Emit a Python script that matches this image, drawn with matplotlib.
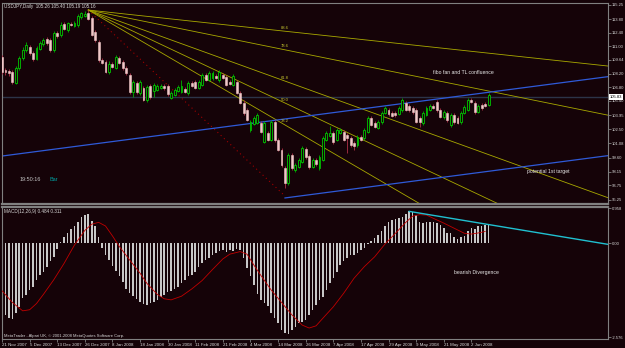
import matplotlib
matplotlib.use("Agg")
import matplotlib.pyplot as plt
from matplotlib.transforms import blended_transform_factory

plt.rcParams["font.family"] = ["Liberation Sans", "DejaVu Sans"]

# USDJPY daily candles, 21 Nov 2007 .. 5 Jun 2008
opens = [109.91, 108.58, 108.48, 108.37, 107.24, 108.78, 109.81, 110.63, 110.94, 110.32,
         109.70, 110.73, 111.25, 111.76, 111.66, 110.63, 112.37, 112.17, 113.30, 112.68,
         113.30, 113.09, 113.19, 114.02, 114.12, 114.43, 113.91, 112.47, 111.45, 109.60,
         109.40, 108.37, 109.19, 108.78, 109.81, 109.40, 108.78, 108.07, 106.32, 107.24,
         106.22, 106.73, 105.50, 106.94, 106.42, 106.53, 106.73, 106.94, 106.94, 105.71,
         106.01, 106.42, 106.32, 106.63, 106.22, 107.24, 107.34, 106.73, 107.04, 108.07,
         107.55, 107.76, 107.96, 107.55, 108.07, 107.86, 107.34, 107.04, 107.34, 106.22,
         105.19, 104.47, 102.42, 103.04, 103.14, 103.14, 101.19, 102.11, 101.40, 103.24,
         101.40, 100.37, 98.52, 96.99, 99.86, 98.32, 98.63, 99.14, 100.47, 99.76,
         98.63, 99.34, 98.52, 99.34, 101.40, 101.81, 102.11, 101.40, 102.11, 102.21,
         101.91, 101.60, 101.09, 100.88, 101.70, 101.60, 102.21, 103.65, 103.14, 102.63,
         103.24, 104.17, 104.47, 104.17, 104.17, 104.06, 104.47, 105.19, 104.88, 104.68,
         104.47, 103.65, 103.14, 103.96, 104.47, 104.88, 105.29, 104.47, 103.76, 104.17,
         102.94, 103.96, 103.65, 103.24, 104.17, 104.47, 105.50, 105.19, 104.27, 104.99,
         105.09, 104.99]
highs = [110.12, 108.78, 108.68, 108.58, 108.99, 110.01, 110.94, 111.45, 111.14, 110.53,
         111.04, 111.56, 111.86, 111.96, 111.86, 112.58, 112.58, 113.50, 113.50, 113.50,
         113.50, 113.60, 114.32, 114.53, 114.63, 114.73, 114.12, 112.68, 111.66, 109.81,
         109.60, 109.50, 109.40, 110.12, 110.01, 109.60, 108.99, 108.27, 107.55, 107.45,
         107.55, 106.94, 107.04, 107.14, 107.24, 107.14, 107.14, 107.14, 107.14, 106.42,
         106.73, 107.04, 107.55, 106.83, 107.45, 107.45, 107.55, 107.55, 108.27, 108.27,
         108.48, 108.48, 108.17, 108.58, 108.27, 108.07, 107.55, 108.17, 107.55, 106.42,
         105.50, 104.68, 103.45, 103.86, 104.17, 103.34, 103.34, 102.32, 103.45, 103.45,
         101.60, 100.58, 98.73, 100.06, 100.06, 99.04, 99.55, 100.78, 100.68, 99.96,
         99.55, 99.55, 99.86, 101.81, 102.32, 102.83, 102.32, 102.63, 102.63, 102.42,
         102.11, 101.81, 101.29, 101.91, 101.91, 102.63, 103.86, 103.86, 103.34, 103.45,
         104.37, 104.88, 104.68, 104.37, 104.37, 104.88, 105.71, 105.40, 105.09, 104.88,
         104.68, 103.86, 104.37, 104.88, 105.09, 105.09, 105.50, 104.68, 104.47, 104.37,
         104.17, 104.17, 103.86, 104.37, 104.99, 105.71, 105.71, 105.40, 105.09, 105.19,
         105.29, 106.22]
lows = [108.17, 108.07, 107.96, 107.14, 107.14, 108.58, 109.60, 110.42, 110.12, 109.50,
        109.60, 110.63, 111.04, 111.14, 110.42, 110.42, 111.86, 111.96, 112.68, 112.47,
        113.09, 112.99, 112.99, 113.81, 114.02, 113.71, 112.07, 111.45, 109.40, 109.19,
        108.27, 108.17, 108.78, 108.68, 109.19, 108.58, 108.07, 106.12, 105.81, 106.12,
        106.01, 105.40, 105.29, 105.60, 105.81, 106.42, 106.63, 106.53, 105.91, 105.60,
        105.91, 106.32, 106.22, 106.22, 106.01, 106.83, 106.63, 106.63, 106.94, 107.45,
        107.45, 107.55, 107.65, 107.34, 107.65, 106.94, 107.04, 106.94, 106.12, 105.09,
        103.96, 103.34, 102.21, 102.94, 103.04, 102.11, 101.09, 101.29, 101.29, 101.19,
        100.27, 98.63, 96.47, 96.78, 98.32, 98.11, 98.52, 99.04, 99.45, 98.42,
        98.52, 98.73, 98.32, 99.24, 101.29, 101.70, 100.99, 101.29, 102.01, 101.29,
        100.06, 100.68, 100.37, 100.68, 101.29, 101.40, 102.11, 102.83, 102.63, 102.52,
        103.04, 104.06, 103.86, 103.76, 103.76, 103.96, 104.27, 104.37, 104.27, 104.06,
        103.14, 102.73, 102.94, 103.86, 104.37, 104.58, 104.27, 103.65, 103.55, 103.24,
        102.73, 103.04, 103.04, 103.04, 104.06, 104.37, 105.19, 104.06, 104.17, 104.47,
        104.78, 104.88]
closes = [108.37, 108.37, 108.27, 107.34, 108.78, 109.81, 110.63, 111.14, 110.32, 109.70,
          110.84, 111.35, 111.66, 111.35, 110.63, 112.37, 112.07, 113.19, 112.78, 113.40,
          113.19, 113.40, 114.12, 114.43, 114.32, 113.81, 112.17, 111.66, 109.60, 109.29,
          108.37, 109.19, 108.89, 109.91, 109.29, 108.78, 108.27, 106.32, 107.34, 106.32,
          107.34, 105.50, 106.83, 105.81, 107.04, 106.94, 106.94, 106.73, 106.12, 106.22,
          106.53, 106.83, 106.94, 106.32, 107.24, 106.94, 106.73, 107.34, 108.07, 107.55,
          108.27, 108.27, 107.76, 108.37, 107.76, 107.04, 107.14, 107.96, 106.22, 105.19,
          104.17, 103.45, 103.24, 103.65, 103.96, 102.21, 103.14, 101.40, 103.24, 101.40,
          100.37, 98.83, 96.99, 99.86, 98.52, 98.83, 99.34, 100.58, 99.65, 98.63,
          99.34, 98.93, 99.65, 101.60, 102.11, 102.11, 101.19, 102.42, 102.42, 101.40,
          101.60, 100.88, 100.78, 101.70, 101.40, 102.42, 103.65, 102.94, 102.73, 103.24,
          104.17, 104.68, 104.06, 103.86, 103.96, 104.68, 105.50, 104.47, 104.47, 104.27,
          103.24, 103.24, 104.17, 104.68, 104.88, 104.68, 104.47, 103.76, 104.27, 103.45,
          103.96, 103.24, 103.14, 104.17, 104.78, 105.50, 105.29, 104.27, 104.88, 104.68,
          104.88, 106.01]

# MACD(12,26,9) main values (histogram) and signal line points
macd_vals = [-1.83, -1.96, -2.05, -2.08, -1.92, -1.74, -1.51, -1.42, -1.28, -1.21,
             -1.00, -0.87, -0.78, -0.64, -0.50, -0.37, -0.15, 0.04, 0.16, 0.28,
             0.40, 0.47, 0.58, 0.72, 0.78, 0.80, 0.62, 0.48, 0.17, -0.12,
             -0.32, -0.46, -0.62, -0.76, -0.90, -1.07, -1.24, -1.35, -1.45, -1.53,
             -1.60, -1.65, -1.68, -1.64, -1.60, -1.55, -1.46, -1.42, -1.33, -1.32,
             -1.24, -1.19, -1.10, -1.00, -0.91, -0.87, -0.78, -0.64, -0.55, -0.46,
             -0.41, -0.32, -0.26, -0.20, -0.18, -0.23, -0.18, -0.20, -0.16, -0.18,
             -0.40, -0.68, -0.90, -1.13, -1.39, -1.55, -1.64, -1.73, -1.92, -2.05,
             -2.19, -2.37, -2.45, -2.47, -2.37, -2.28, -2.19, -2.15, -2.10, -1.97,
             -1.83, -1.69, -1.55, -1.46, -1.28, -1.10, -0.96, -0.78, -0.60, -0.50,
             -0.41, -0.32, -0.32, -0.27, -0.18, -0.14, -0.03, 0.05, 0.14, 0.23,
             0.32, 0.46, 0.59, 0.64, 0.66, 0.68, 0.71, 0.80, 0.87, 0.84,
             0.78, 0.59, 0.55, 0.57, 0.59, 0.59, 0.55, 0.50, 0.41, 0.27,
             0.27, 0.18, 0.11, 0.16, 0.20, 0.32, 0.41, 0.38, 0.46, 0.46,
             0.50, 0.53]
sig_bars = [0, 3, 6, 8, 10, 12, 15, 18, 21, 24, 26, 28, 30, 32, 34, 37, 40, 42, 45, 47,
            49, 52, 55, 58, 61, 64, 66, 69, 71, 73, 75, 78, 81, 84, 87, 89, 91, 93, 96, 99,
            102, 105, 108, 111, 114, 117, 119, 121, 123, 125, 128, 131, 134, 136, 138, 140]
sig_vals = [-1.30, -1.62, -1.85, -1.82, -1.65, -1.40, -1.00, -0.55, -0.05, 0.35, 0.52, 0.57,
            0.47, 0.20, -0.09, -0.46, -0.82, -1.10, -1.40, -1.52, -1.55, -1.45, -1.25, -1.02,
            -0.72, -0.43, -0.30, -0.23, -0.30, -0.60, -0.88, -1.28, -1.62, -1.96, -2.24, -2.32,
            -2.26, -2.05, -1.74, -1.37, -0.96, -0.64, -0.37, -0.02, 0.27, 0.57, 0.74, 0.78,
            0.77, 0.68, 0.55, 0.41, 0.27, 0.25, 0.28, 0.32]

date_labels = ["21 Nov 2007", "5 Dec 2007", "13 Dec 2007", "26 Dec 2007", "8 Jan 2008",
               "18 Jan 2008", "30 Jan 2008", "11 Feb 2008", "21 Feb 2008", "4 Mar 2008",
               "14 Mar 2008", "26 Mar 2008", "7 Apr 2008", "17 Apr 2008", "29 Apr 2008",
               "9 May 2008", "21 May 2008", "2 Jun 2008"]
price_ticks = ["115.25", "113.80", "112.40", "111.00", "109.64", "108.20", "106.80", "105.40",
               "103.95", "102.50", "101.08", "99.60", "98.15", "96.75", "95.25"]
macd_ticks = ["0.958", "0.00", "-2.576"]

# drawn objects: fibo fan anchors, trend lines, bid
fan_p1 = (25, 114.73)
fan_p2 = (82, 95.65)
fan_levels = [0.886, 0.786, 0.618, 0.5, 0.382]
fan_names = ["88.6", "78.6", "61.8", "50.0", "38.2"]
tl_upper = [(0, 99.75), (141, 106.29)]
tl_lower_start = (82, 95.45)
macd_tl = [(118, 0.87), (141, 0.51)]
bid = 105.83

BG = "#150308"
FRAME = "#808080"
TXT = "#d8d8d8"
FS = 3.3
XMIN, XMAX = 0.0, 175.6

fig = plt.figure(figsize=(6.25, 3.48), dpi=100, facecolor=BG)


def px_axes(x0, y0, x1, y1):
    return fig.add_axes([x0 / 625, 1 - y1 / 348, (x1 - x0) / 625, (y1 - y0) / 348])


ax = px_axes(2, 3, 608, 204)
mac = px_axes(2, 207, 608, 339)

for a in (ax, mac):
    a.set_facecolor(BG)
    a.set_xlim(XMIN, XMAX)
    for s in a.spines.values():
        s.set_color(FRAME)
        s.set_linewidth(0.8)
    a.yaxis.tick_right()
    a.tick_params(axis="y", colors=FRAME, labelcolor=TXT, labelsize=3.0, length=2, width=0.6, pad=1)
ax.spines["bottom"].set_linewidth(1.6)
mac.spines["top"].set_linewidth(1.6)

# price panel
ax.set_ylim(94.83, 115.45)
ax.set_yticks([float(t) for t in price_ticks])
ax.set_yticklabels(price_ticks)
ax.set_xticks([])

ax.axhline(bid, color="#2c3448", lw=1.0, zorder=1)

bars = list(range(len(closes)))
for i in bars:
    o, h, l, c = opens[i], highs[i], lows[i], closes[i]
    if c >= o:
        ax.vlines(i, l, h, color="#00b000", lw=0.6, zorder=3)
        ax.bar(i, max(c - o, 0.02), bottom=o, width=0.55, facecolor=BG,
               edgecolor="#00c800", lw=0.6, zorder=4)
    else:
        ax.vlines(i, l, h, color="#b03048", lw=0.6, zorder=3)
        ax.bar(i, max(o - c, 0.02), bottom=c, width=0.55, facecolor="#f0c8c8",
               edgecolor="#f0c8c8", lw=0.4, zorder=4)

# fibo fan
x1, p1 = fan_p1
x2, p2 = fan_p2
ax.plot([x1, x2], [p1, p2], color="#a00000", lw=0.8, ls=(0, (1, 3)), zorder=2)
for lev, name in zip(fan_levels, fan_names):
    py = p2 + lev * (p1 - p2)
    slope = (py - p1) / (x2 - x1)
    ax.plot([x1, XMAX], [p1, p1 + slope * (XMAX - x1)], color="#a8a800", lw=0.6, zorder=2)
    ax.text(x2, py + 0.15, name, color="#c8c830", fontsize=3.0, ha="center", va="bottom", zorder=5)

# trend lines (parallel channel)
(ua, pa), (ub, pb) = tl_upper
k = (pb - pa) / (ub - ua)
ax.plot([XMIN, XMAX], [pa + k * (XMIN - ua), pa + k * (XMAX - ua)], color="#2f5ad8", lw=0.9, zorder=2)
lx, lp = tl_lower_start
ax.plot([lx, XMAX], [lp, lp + k * (XMAX - lx)], color="#2f5ad8", lw=0.9, zorder=2)

ax.text(0.004, 0.995, "USDJPY,Daily  105.26 105.40 105.19 105.16", transform=ax.transAxes,
        ha="left", va="top", fontsize=FS, color=TXT)
ax.text(125, 108.37, "fibo fan and TL confluence", fontsize=3.7, color="#e8e8e8", ha="left", va="center")
ax.text(152, 98.2, "potential 1st target", fontsize=3.7, color="#e8e8e8", ha="left", va="center")
ax.text(5.2, 97.3, "19:50:16", fontsize=4.0, color="#c0c0c0", ha="left", va="center")
ax.text(13.8, 97.3, "Bar", fontsize=4.0, color="#00a0a0", ha="left", va="center")
bt = blended_transform_factory(ax.transAxes, ax.transData)
ax.text(1.003, bid, f"{bid:.2f}", transform=bt, fontsize=3.0, color="black", ha="left", va="center",
        bbox=dict(facecolor="white", edgecolor="none", pad=0.6))

# MACD panel
mac.set_ylim(-2.62, 0.99)
mac.set_yticks([float(t) for t in macd_ticks])
mac.set_yticklabels(macd_ticks)
mac.bar(bars, macd_vals, width=0.45, color="#c8c8c8", zorder=2)
mac.plot(sig_bars, sig_vals, color="#c00000", lw=0.6, zorder=3)
(ma, va), (mb, vb) = macd_tl
km = (vb - va) / (mb - ma)
mac.plot([ma, XMAX], [va, va + km * (XMAX - ma)], color="#20c0d0", lw=1.0, zorder=4)
mac.text(0.004, 0.985, "MACD(12,26,9) 0.484 0.311", transform=mac.transAxes,
         ha="left", va="top", fontsize=FS, color=TXT)
mac.text(0.003, 0.01, "MetaTrader - Alpari UK, \u00a9 2001-2008 MetaQuotes Software Corp.",
         transform=mac.transAxes, ha="left", va="bottom", fontsize=3.0, color=TXT)
mac.text(131, -0.79, "bearish Divergence", fontsize=3.7, color="#e8e8e8", ha="left", va="center")

mac.set_xticks(list(range(0, len(closes), 8)))
mac.set_xticklabels(date_labels, ha="left")
mac.tick_params(axis="x", colors=FRAME, labelcolor=TXT, labelsize=3.2, length=2, width=0.6, pad=1)

fig.savefig("out.png", dpi=100, facecolor=BG)
